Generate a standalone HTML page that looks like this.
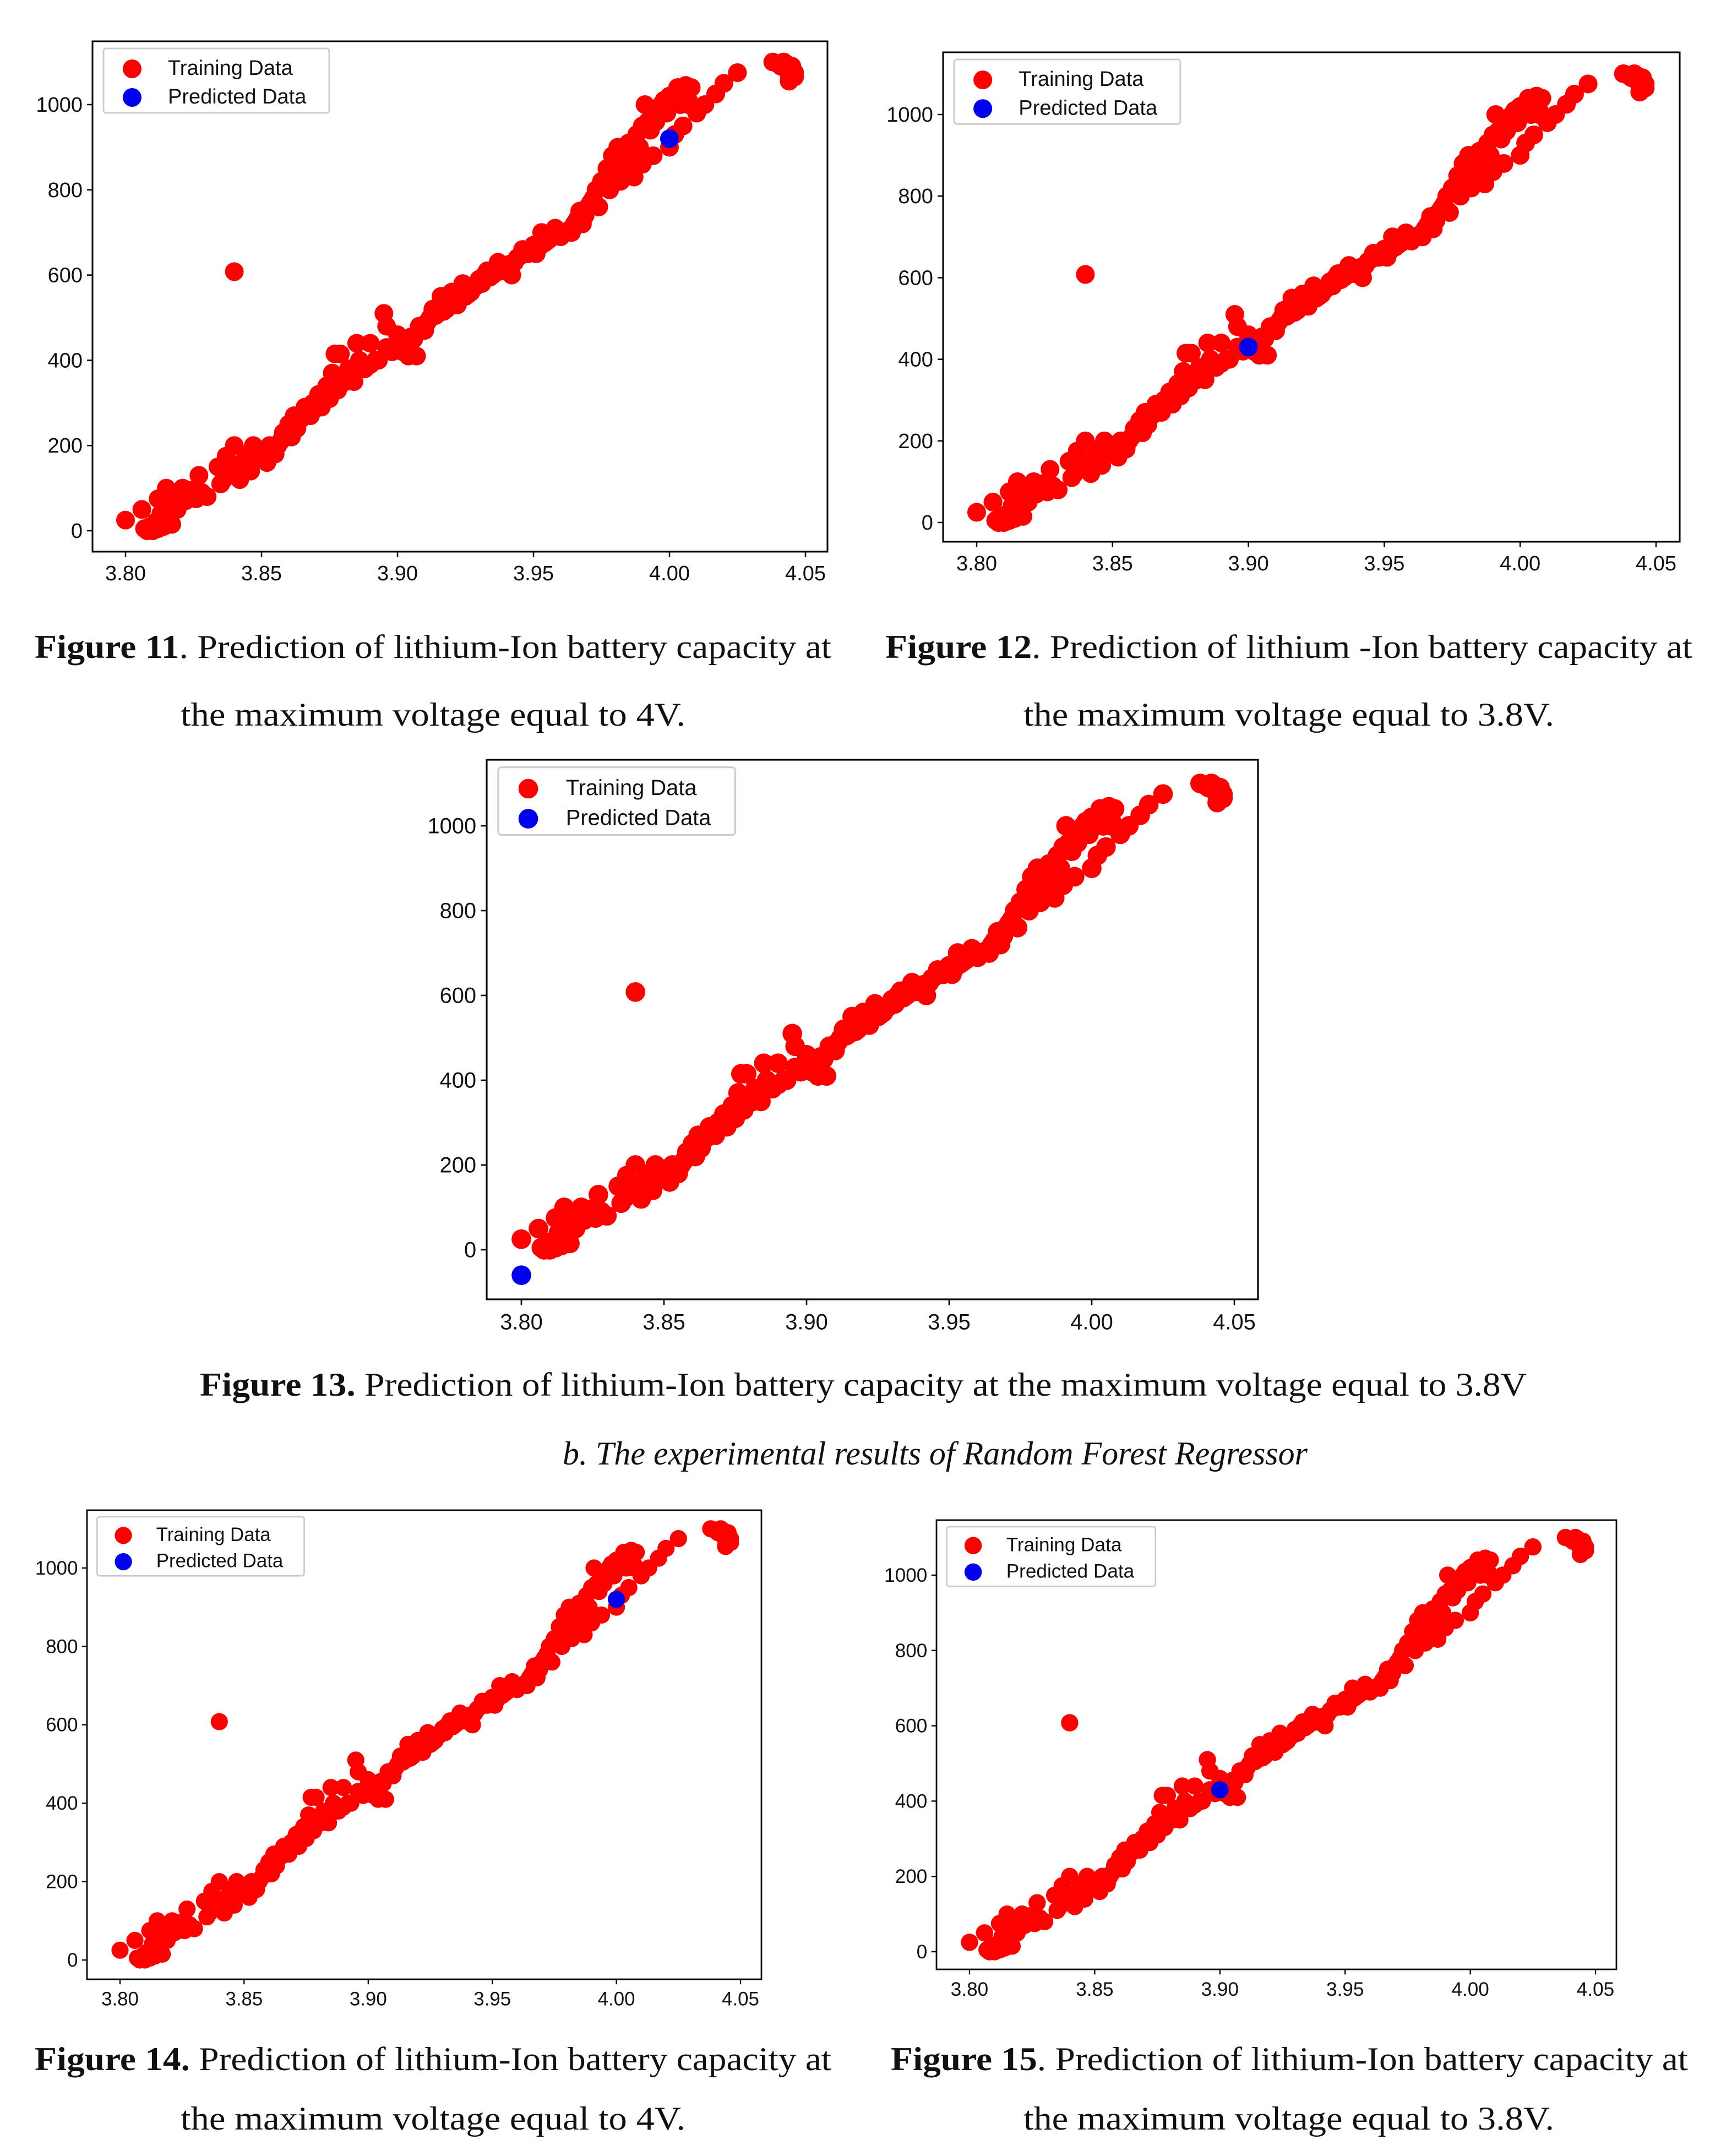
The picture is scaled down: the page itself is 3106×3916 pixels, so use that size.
<!DOCTYPE html>
<html><head><meta charset="utf-8">
<style>
html,body{margin:0;padding:0;background:#fff;}
svg{display:block;}
</style></head>
<body>
<svg id="root" width="3106" height="3916" viewBox="0 0 3106 3916" xmlns="http://www.w3.org/2000/svg">
<rect width="3106" height="3916" fill="#fff"/>
<g id="captions" font-family="Liberation Serif, serif" fill="#111" font-size="60">
<text x="63" y="1195" textLength="1447" lengthAdjust="spacingAndGlyphs"><tspan font-weight="bold">Figure 11</tspan>. Prediction of lithium-Ion battery capacity at</text>
<text x="328" y="1318" textLength="917" lengthAdjust="spacingAndGlyphs">the maximum voltage equal to 4V.</text>
<text x="1608" y="1195" textLength="1466" lengthAdjust="spacingAndGlyphs"><tspan font-weight="bold">Figure 12</tspan>. Prediction of lithium -Ion battery capacity at</text>
<text x="1859" y="1318" textLength="964" lengthAdjust="spacingAndGlyphs">the maximum voltage equal to 3.8V.</text>
<text x="363" y="2535" textLength="2410" lengthAdjust="spacingAndGlyphs"><tspan font-weight="bold">Figure 13.</tspan> Prediction of lithium-Ion battery capacity at the maximum voltage equal to 3.8V</text>
<text x="1022" y="2660" font-style="italic" textLength="1353" lengthAdjust="spacingAndGlyphs">b. The experimental results of Random Forest Regressor</text>
<text x="63" y="3760" textLength="1447" lengthAdjust="spacingAndGlyphs"><tspan font-weight="bold">Figure 14.</tspan> Prediction of lithium-Ion battery capacity at</text>
<text x="328" y="3868" textLength="917" lengthAdjust="spacingAndGlyphs">the maximum voltage equal to 4V.</text>
<text x="1618" y="3760" textLength="1448" lengthAdjust="spacingAndGlyphs"><tspan font-weight="bold">Figure 15</tspan>. Prediction of lithium-Ion battery capacity at</text>
<text x="1859" y="3868" textLength="964" lengthAdjust="spacingAndGlyphs">the maximum voltage equal to 3.8V.</text>
</g>
</svg>
<script>
const trainX = [3.800,3.806,3.807,3.808,3.809,3.810,3.811,3.812,3.812,3.813,3.814,3.815,3.815,3.816,3.817,3.818,3.819,3.820,3.821,3.822,3.823,3.824,3.825,3.826,3.827,3.828,3.830,3.840,
3.834,3.835,3.836,3.837,3.838,3.840,3.840,3.842,3.843,3.845,3.846,3.847,3.848,3.850,3.852,3.853,3.855,3.856,3.858,3.860,3.861,3.862,3.864,3.866,3.868,3.870,3.871,3.872,3.874,3.875,3.876,3.877,3.878,3.879,3.880,3.882,3.884,3.885,3.886,3.888,3.890,3.890,3.893,3.895,3.896,3.896,3.898,3.900,3.902,3.904,3.906,3.907,3.908,3.910,3.912,3.913,3.915,3.916,3.918,3.920,3.920,3.922,3.924,3.925,3.927,3.930,3.932,3.933,3.935,3.937,3.940,3.942,3.944,3.946,3.948,3.950,3.951,3.953,3.955,3.957,3.958,3.960,3.962,3.965,3.967,3.968,3.970,3.972,3.973,3.974,3.975,3.977,3.978,3.979,3.980,3.981,3.982,3.983,3.984,3.985,3.986,3.987,3.988,3.990,3.990,3.991,3.992,3.994,3.994,3.996,3.997,3.998,4.000,4.000,4.002,4.003,4.004,4.005,4.006,4.007,4.008,4.005,4.010,4.013,4.017,4.020,4.025,4.038,4.042,4.043,4.044,4.045,4.044,4.046,4.043,
3.844,3.849,3.851,3.857,3.859,3.863,3.865,3.867,3.869,3.873,3.876,3.881,3.883,3.887,3.892,3.901,3.905,3.909,3.911,3.914,3.917,3.919,3.921,3.923,3.926,3.928,3.929,3.931,3.934,3.936,3.938,3.939,3.941,3.943,3.945,3.947,3.949,3.952,3.954,3.956,3.959,3.961,3.963,3.964,3.966,3.969,3.971,3.976,3.978,3.981,3.984,3.987,3.989,3.993,3.995,3.999,4.001,4.003,4.006,4.007,4.041,4.045,4.046,4.040,4.044];
const trainY = [25,50,5,0,10,0,20,5,75,40,10,100,60,30,15,70,50,90,100,70,80,95,85,75,130,90,80,608,
150,110,120,175,130,200,150,120,160,180,140,200,170,190,160,200,180,200,230,250,220,270,260,290,270,300,320,290,340,310,370,415,330,415,360,380,350,440,400,380,440,390,400,510,480,430,420,460,420,410,450,410,480,470,500,520,510,550,520,560,540,530,580,550,560,590,600,610,600,630,620,600,640,660,650,670,650,700,680,690,710,690,700,720,750,720,760,780,800,760,820,850,800,880,860,900,820,880,840,910,890,830,930,950,860,1000,960,970,880,990,1000,1010,900,1020,930,1040,1000,1020,1045,1010,1040,950,980,1000,1025,1050,1075,1100,1100,1085,1070,1090,1055,1075,1095,
170,175,180,210,220,240,265,280,300,310,340,350,370,380,400,440,455,480,490,505,515,530,545,550,555,570,575,580,595,605,615,610,625,630,645,650,655,665,675,685,695,700,705,700,730,740,770,810,830,850,860,880,900,940,960,980,1000,1030,1030,1000,1090,1080,1065,1095,1080];
const predX = [4.00, 3.90, 3.80, 4.00, 3.90];
const predY = [920, 430, -60, 920, 430];
const xTicks = [3.80, 3.85, 3.90, 3.95, 4.00, 4.05];
const xTickLabels = ["3.80","3.85","3.90","3.95","4.00","4.05"];
const yTicks = [0, 200, 400, 600, 800, 1000];
const yTickLabels = ["0","200","400","600","800","1000"];

const charts = [
 {id:'figure-11', L:168,R:1503,T:75,B:1002, x0:228,x1:1463, y0:964,y1:190},
 {id:'figure-12', L:1713,R:3051,T:95,B:984, x0:1774,x1:3008, y0:949,y1:208},
 {id:'figure-13', L:884,R:2285,T:1380,B:2360, x0:947,x1:2242, y0:2270,y1:1500},
 {id:'figure-14', L:158,R:1383,T:2743,B:3595, x0:218,x1:1345, y0:3560,y1:2848},
 {id:'figure-15', L:1701,R:2936,T:2761,B:3577, x0:1761,x1:2898, y0:3545,y1:2861}
];
const NS='http://www.w3.org/2000/svg';
const root=document.getElementById('root');
function mk(tag,attrs,parent){const e=document.createElementNS(NS,tag);for(const k in attrs)e.setAttribute(k,attrs[k]);parent.appendChild(e);return e;}
charts.forEach((c,ci)=>{
  const s=(c.R-c.L)/1335;
  const xs=v=>c.x0+(v-3.80)/(4.05-3.80)*(c.x1-c.x0);
  const ys=v=>c.y0+(v-0)/(1000-0)*(c.y1-c.y0);
  const g=mk('g',{},root);
  
  
  const r=17*s;
  const tg=mk('g',{fill:'#ff0000'},g);
  
  
  for(let i=0;i<trainX.length;i++){
    const d=mk('circle',{cx:xs(trainX[i]),cy:ys(trainY[i]),r:r},tg);
    
    
  }
  const p=mk('circle',{cx:xs(predX[ci]),cy:ys(predY[ci]),r:r,fill:'#0000ee'},g);
  
  
  const fr=mk('rect',{x:c.L,y:c.T,width:c.R-c.L,height:c.B-c.T,fill:'none',stroke:'#000','stroke-width':3*s},g);
  
  
  const fs=38*s;
  xTicks.forEach((t,i)=>{
    const x=xs(t);
    mk('line',{x1:x,x2:x,y1:c.B,y2:c.B+10*s,stroke:'#000','stroke-width':2.5*s},g);
    const tx=mk('text',{x:x,y:c.B+52*s,'text-anchor':'middle','font-family':'Liberation Sans, sans-serif','font-size':fs,fill:'#111'},g);
    tx.textContent=xTickLabels[i];
    
    
  });
  yTicks.forEach((t,i)=>{
    const y=ys(t);
    mk('line',{x1:c.L-10*s,x2:c.L,y1:y,y2:y,stroke:'#000','stroke-width':2.5*s},g);
    const tx=mk('text',{x:c.L-18*s,y:y+13*s,'text-anchor':'end','font-family':'Liberation Sans, sans-serif','font-size':fs,fill:'#111'},g);
    tx.textContent=yTickLabels[i];
    
    
  });
  const lg=mk('g',{},g);
  
  
  const lx=c.L+20*s, ly=c.T+13*s;
  mk('rect',{x:lx,y:ly,width:410*s,height:117*s,rx:5*s,fill:'#fff',stroke:'#ccc','stroke-width':3*s},lg);
  mk('circle',{cx:lx+52*s,cy:ly+37*s,r:r,fill:'#ff0000'},lg);
  mk('circle',{cx:lx+52*s,cy:ly+89*s,r:r,fill:'#0000ee'},lg);
  const t1=mk('text',{x:lx+117*s,y:ly+48*s,'font-family':'Liberation Sans, sans-serif','font-size':fs,fill:'#111'},lg);
  t1.textContent='Training Data';
  
  
  const t2=mk('text',{x:lx+117*s,y:ly+100*s,'font-family':'Liberation Sans, sans-serif','font-size':fs,fill:'#111'},lg);
  t2.textContent='Predicted Data';
  
  
});
</script>
</body></html>
